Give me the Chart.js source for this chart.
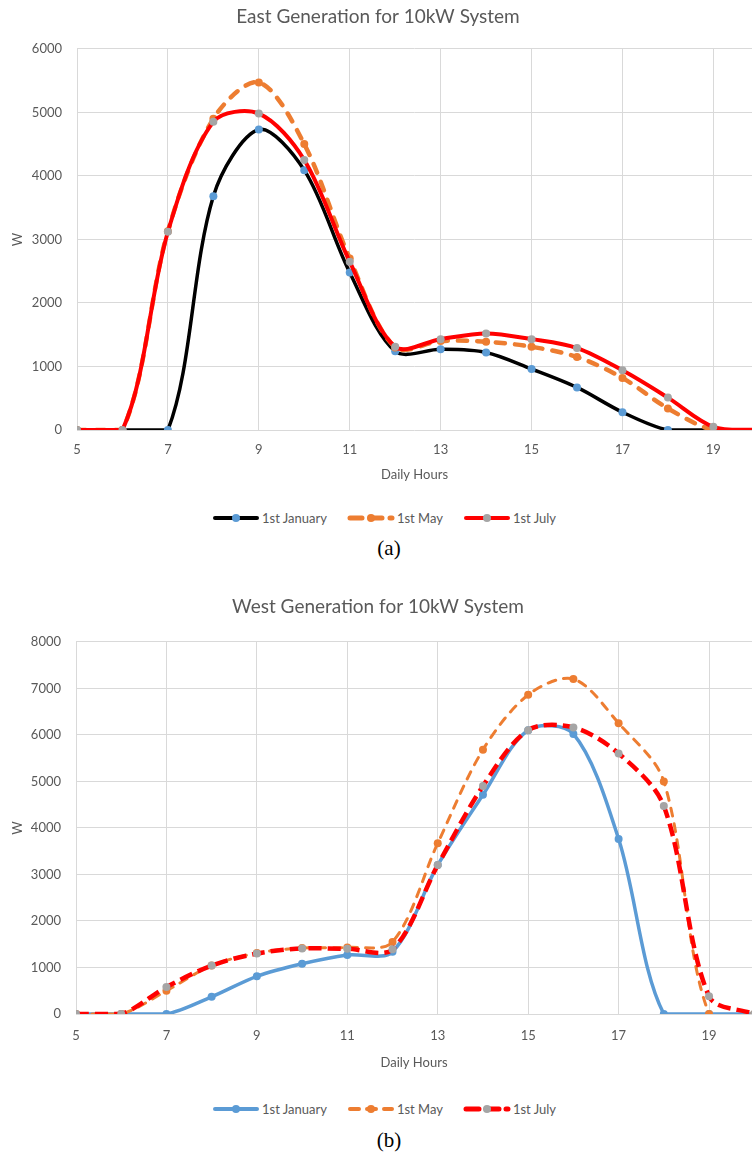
<!DOCTYPE html>
<html>
<head>
<meta charset="utf-8">
<script src="https://cdn.jsdelivr.net/npm/chart.js@4.4.1/dist/chart.umd.min.js"></script>
<style>
  body { margin: 0; background: #fff; width: 756px; height: 1153px; overflow: hidden; position: relative; font-family: Lato, "Open Sans", sans-serif; }
  canvas { position: absolute; left: 0; }
  .legend { position: absolute; left: 212px; height: 18px; display: flex; align-items: center; font-size: 13px; color: #595959; white-space: nowrap; }
  .legend .item { display: flex; align-items: center; margin-right: 20px; }
  .legend svg { margin-right: 2px; }
  .cap { position: absolute; left: 0; width: 778px; text-align: center; font-family: "Liberation Serif", "Times New Roman", serif; font-size: 21px; line-height: 26px; color: #000; }
</style>
</head>
<body>
<canvas id="chEast" width="756" height="487" style="top:0px"></canvas>
<div id="legEast" class="legend" style="top:509px"></div>
<div class="cap" style="top:535px">(a)</div>

<canvas id="chWest" width="756" height="485" style="top:590px"></canvas>
<div id="legWest" class="legend" style="top:1100px"></div>
<div class="cap" style="top:1127px">(b)</div>

<script>
// hours of the day (x values) and the labelled ticks
var hours = [5, 6, 7, 8, 9, 10, 11, 12, 13, 14, 15, 16, 17, 18, 19, 20];
var xTicks = [5, 7, 9, 11, 13, 15, 17, 19];
var seriesNames = ["1st January", "1st May", "1st July"];

// east facing array, W
var eastJan = [0, 0, 0, 3680, 4730, 4090, 2480, 1240, 1270, 1220, 960, 670, 280, 0, 0, 0];
var eastMay = [0, 0, 3130, 4900, 5470, 4500, 2700, 1300, 1400, 1390, 1310, 1150, 820, 340, 0, 0];
var eastJul = [0, 0, 3120, 4850, 4980, 4250, 2650, 1310, 1430, 1520, 1430, 1290, 940, 510, 50, 0];

// west facing array, W
var westJan = [0, 0, 0, 370, 810, 1080, 1270, 1340, 3200, 4710, 6100, 6020, 3760, 0, 0, 0];
var westMay = [0, 0, 500, 1040, 1310, 1420, 1430, 1550, 3670, 5680, 6860, 7200, 6250, 5000, 0, 0];
var westJul = [0, 0, 580, 1040, 1300, 1410, 1400, 1390, 3200, 4900, 6100, 6160, 5600, 4470, 380, 0];

Chart.defaults.font.family = "Lato, 'Open Sans', sans-serif";
Chart.defaults.color = "#595959";

function points(vals) {
  return hours.map(function (h, i) { return { x: h, y: vals[i] }; });
}

function line(vals, o) {
  return {
    data: points(vals),
    borderColor: o.color,
    borderWidth: o.width,
    borderDash: o.dash || [],
    borderCapStyle: o.cap || "butt",
    pointRadius: 4,
    pointBorderWidth: 0,
    pointBackgroundColor: o.marker,
    tension: 0.32,
    fill: false,
    order: o.order
  };
}

function makeChart(id, title, yMax, xMax, datasets, lay) {
  return new Chart(document.getElementById(id), {
    type: "line",
    data: { datasets: datasets },
    options: {
      responsive: false,
      animation: false,
      layout: { padding: 0 },
      plugins: {
        legend: { display: false },
        tooltip: { enabled: false },
        title: {
          display: true,
          text: title,
          color: "#595959",
          font: { size: 19, weight: "normal" },
          padding: { top: lay.titleTop, bottom: lay.titleBottom }
        }
      },
      scales: {
        x: {
          type: "linear",
          min: 5,
          max: xMax,
          afterBuildTicks: function (axis) {
            axis.ticks = xTicks.map(function (v) { return { value: v }; });
          },
          afterFit: function (s) { s.height = lay.bottom; },
          grid: { color: "#D9D9D9", drawTicks: false },
          border: { display: false },
          ticks: { padding: lay.xPad, font: { size: 13 }, color: "#595959", maxRotation: 0 },
          title: { display: true, text: "Daily Hours", font: { size: 13 }, color: "#595959", padding: { top: 0, bottom: 4 } }
        },
        y: {
          min: 0,
          max: yMax,
          afterFit: function (s) { s.width = lay.left; },
          grid: { color: "#D9D9D9", drawTicks: false },
          border: { display: false },
          ticks: {
            stepSize: 1000, padding: 15, font: { size: 13 }, color: "#595959",
            callback: function (v) { return String(v); }
          },
          title: { display: true, text: "W", font: { size: 13 }, color: "#595959", padding: { top: 10, bottom: 0 } }
        }
      }
    }
  });
}

makeChart("chEast", "East Generation for 10kW System", 6000, 19.85, [
  line(eastJan, { color: "#000000", width: 3.5, marker: "#5B9BD5", order: 2 }),
  line(eastMay, { color: "#ED7D31", width: 4.5, marker: "#ED7D31", dash: [9, 10], cap: "round", order: 1 }),
  line(eastJul, { color: "#FF0000", width: 4, marker: "#A5A5A5", order: 0 })
], { titleTop: 5, titleBottom: 21, xPad: 12, left: 77, bottom: 57 });

makeChart("chWest", "West Generation for 10kW System", 8000, 19.95, [
  line(westJan, { color: "#5B9BD5", width: 3.5, marker: "#5B9BD5", order: 2 }),
  line(westMay, { color: "#ED7D31", width: 3, marker: "#ED7D31", dash: [8, 8], cap: "round", order: 1 }),
  line(westJul, { color: "#FF0000", width: 4.5, marker: "#A5A5A5", dash: [13, 6], order: 0 })
], { titleTop: 5, titleBottom: 24, xPad: 14, left: 76, bottom: 61 });

// html legends, line sample with the marker in the middle
function legend(id, specs) {
  var html = [];
  for (var i = 0; i < specs.length; i++) {
    var s = specs[i];
    html.push('<span class="item"><svg width="48" height="10">' +
      '<line x1="3" y1="5" x2="45" y2="5" stroke="' + s.color + '" stroke-width="' + s.width +
      '" stroke-linecap="round"' + (s.dash ? ' stroke-dasharray="' + s.dash + '"' : '') + '/>' +
      '<circle cx="24" cy="5" r="4" fill="' + s.marker + '"/></svg>' + seriesNames[i] + '</span>');
  }
  document.getElementById(id).innerHTML = html.join("");
}

legend("legEast", [
  { color: "#000000", width: 4, marker: "#5B9BD5" },
  { color: "#ED7D31", width: 5, marker: "#ED7D31", dash: "12 8" },
  { color: "#FF0000", width: 4, marker: "#A5A5A5" }
]);
legend("legWest", [
  { color: "#5B9BD5", width: 4, marker: "#5B9BD5" },
  { color: "#ED7D31", width: 4, marker: "#ED7D31", dash: "9 8" },
  { color: "#FF0000", width: 5, marker: "#A5A5A5", dash: "13 7" }
]);
</script>
</body>
</html>
